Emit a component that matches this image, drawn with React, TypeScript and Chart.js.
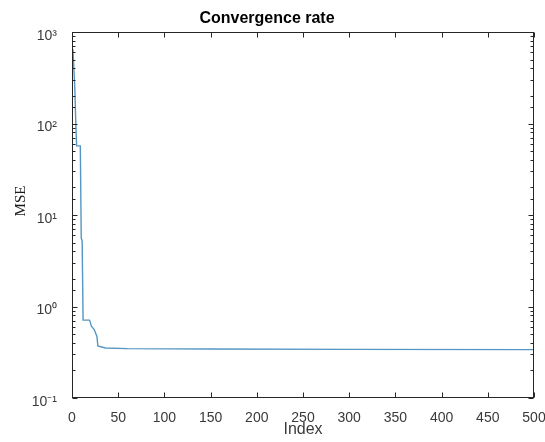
import React, { useEffect, useRef } from "react";
import { Chart, registerables } from "chart.js";

Chart.register(...registerables);

// Iteration index (x) and MSE value (y) at the points where the curve changes
const indexValues = [1, 2, 3, 4, 5, 9, 10, 11, 12, 19, 21, 24, 27, 28, 36, 60, 150, 300, 500];
const mseValues = [650, 400, 250, 110, 57, 57, 5.6, 5.2, 0.71, 0.71, 0.61, 0.56, 0.47, 0.37, 0.352, 0.346, 0.343, 0.34, 0.338];

const xTickStep = 50;
const xMin = 0;
const xMax = 500;
const yMin = 0.1;
const yMax = 1000;

const titleText = "Convergence rate";
const xLabel = "Index";
const yLabel = "MSE";

const supers: Record<string, string> = {
  "-": "\u207B", "0": "\u2070", "1": "\u00B9", "2": "\u00B2", "3": "\u00B3",
  "4": "\u2074", "5": "\u2075", "6": "\u2076", "7": "\u2077", "8": "\u2078", "9": "\u2079",
};

const isPow10 = (v: number) => {
  const l = Math.log10(v);
  return Math.abs(l - Math.round(l)) < 1e-9;
};

const powLabel = (v: number) => {
  const e = String(Math.round(Math.log10(v)));
  return "10" + e.split("").map((c) => supers[c] || c).join("");
};

const AXIS_COLOR = "#262626";
const TEXT_COLOR = "#3a3a3a";
const SANS = "'Liberation Sans', Arial, Helvetica, sans-serif";
const SERIF = "'Liberation Serif', 'Times New Roman', serif";

const boxPlugin = {
  id: "matlabBox",
  afterDraw(chart: any) {
    const { ctx, chartArea } = chart;
    const { left, right, top, bottom } = chartArea;
    const xs = chart.scales.x;
    const ys = chart.scales.y;
    ctx.save();
    ctx.strokeStyle = AXIS_COLOR;
    ctx.lineWidth = 1;
    const L = Math.round(left) + 0.5;
    const R = Math.round(right) - 0.5;
    const T = Math.round(top) + 0.5;
    const B = Math.round(bottom) - 0.5;
    ctx.strokeRect(L, T, R - L, B - T);
    ctx.beginPath();
    xs.ticks.forEach((t: any) => {
      const px = Math.round(xs.getPixelForValue(t.value)) + 0.5;
      ctx.moveTo(px, B);
      ctx.lineTo(px, B - 5);
      ctx.moveTo(px, T);
      ctx.lineTo(px, T + 5);
    });
    ys.ticks.forEach((t: any) => {
      const py = Math.round(ys.getPixelForValue(t.value)) + 0.5;
      const len = isPow10(t.value) ? 5 : 3;
      ctx.moveTo(L, py);
      ctx.lineTo(L + len, py);
      ctx.moveTo(R, py);
      ctx.lineTo(R - len, py);
    });
    ctx.stroke();
    // y axis label
    ctx.fillStyle = "#1a1a1a";
    ctx.font = "15px " + SERIF;
    ctx.textAlign = "center";
    ctx.textBaseline = "middle";
    ctx.translate(21, (top + bottom) / 2 - 14);
    ctx.rotate(-Math.PI / 2);
    ctx.fillText(yLabel, 0, 0);
    ctx.restore();
  },
};

export default function App() {
  const ref = useRef<HTMLCanvasElement | null>(null);

  useEffect(() => {
    if (!ref.current) return;
    const chart = new Chart(ref.current, {
      type: "line",
      data: {
        datasets: [
          {
            data: indexValues.map((x, i) => ({ x, y: mseValues[i] })),
            borderColor: "#5596c2",
            borderWidth: 1.4,
            pointRadius: 0,
            tension: 0,
            fill: false,
          },
        ],
      },
      options: {
        animation: false,
        responsive: false,
        maintainAspectRatio: false,
        layout: { padding: { left: 0, right: 11, top: 0, bottom: 0 } },
        plugins: {
          legend: { display: false },
          tooltip: { enabled: false },
          title: {
            display: true,
            text: titleText,
            color: "#000",
            font: { family: SANS, size: 16, weight: "bold", lineHeight: 1.25 },
            padding: { top: 9, bottom: 3 },
          },
        },
        scales: {
          x: {
            type: "linear",
            min: xMin,
            max: xMax,
            grid: { display: false },
            border: { display: false },
            ticks: {
              stepSize: xTickStep,
              color: TEXT_COLOR,
              font: { family: SANS, size: 14 },
              padding: 4,
              maxRotation: 0,
              autoSkip: false,
            },
            title: {
              display: true,
              text: xLabel,
              color: TEXT_COLOR,
              font: { family: SANS, size: 16 },
              padding: { top: 0, bottom: 3 },
            },
            afterFit: (s: any) => {
              s.height = 44;
              s.paddingLeft = 0;
              s.paddingRight = 0;
            },
          },
          y: {
            type: "logarithmic",
            min: yMin,
            max: yMax,
            grid: { display: false },
            border: { display: false },
            ticks: {
              autoSkip: false,
              color: TEXT_COLOR,
              font: { family: SANS, size: 14 },
              padding: 7,
              labelOffset: 4,
              callback: (v: any) => (isPow10(Number(v)) ? powLabel(Number(v)) : ""),
            },
            afterFit: (s: any) => {
              s.width = 72;
              s.paddingTop = 0;
              s.paddingBottom = 0;
            },
          },
        },
      },
      plugins: [boxPlugin],
    } as any);
    return () => chart.destroy();
  }, []);

  return (
    <div style={{ position: "fixed", left: 0, top: 0, width: 545, height: 442, background: "#fff" }}>
      <canvas ref={ref} width={545} height={442} style={{ width: 545, height: 442 }} />
    </div>
  );
}
